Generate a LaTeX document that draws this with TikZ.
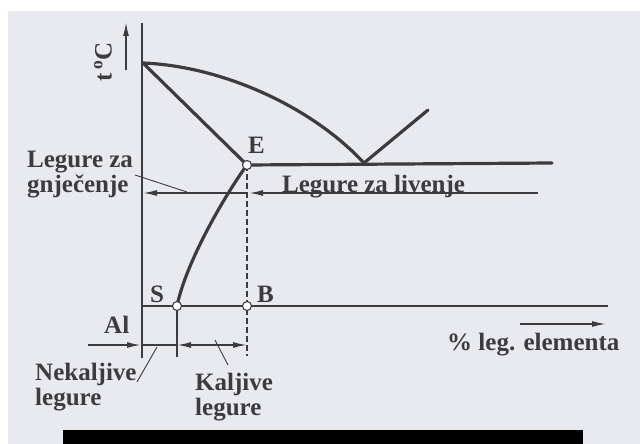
\documentclass[tikz,border=0pt]{standalone}
\usepackage{fontspec}
\setmainfont{Liberation Serif}
\usetikzlibrary{arrows.meta}
\definecolor{alink}{RGB}{60, 60, 62}
\definecolor{alpaper}{RGB}{233, 233, 240}
\tikzset{
  lbl/.style={alink, inner sep=0pt, align=left, font=\bfseries\fontsize{25}{25}\selectfont},
  phase/.style={alink, line width=3.2pt, line cap=round},
  axisln/.style={alink, line width=1.6pt},
  leader/.style={alink, line width=0.9pt},
  arr/.style={axisln, -{Latex[length=14pt, width=6pt]}},
  ringpt/.style={circle, draw=alink, fill=white, line width=1.1pt, minimum size=9pt, inner sep=0pt}
}
\begin{document}
\begin{tikzpicture}[x=1pt, y=-1pt]
  \useasboundingbox (0,0) rectangle (640,444);
  \fill[alpaper] (8,11) rectangle (640,444);
  \fill[black] (63,430) rectangle (583,444);

  \coordinate (top) at (142,23);
  \coordinate (bot) at (142,358);
  \coordinate (A) at (143,63);
  \coordinate (Eu) at (364,163);
  \coordinate (Er) at (428,110);
  \coordinate (Ee) at (552,163);
  \coordinate (E) at (247,165);
  \coordinate (S) at (177,306);
  \coordinate (B) at (247,306);
  \coordinate (base0) at (142,306);
  \coordinate (base1) at (608,306);
  \coordinate (Ed) at (247,356);
  \coordinate (Sd) at (177,357);

  \draw[axisln] (top) -- (bot);
  \draw[axisln] (base0) -- (base1);
  \draw[phase] (A) .. controls (220,66) and (310,105) .. (Eu) -- (Er);
  \draw[phase] (A) -- (E) -- (Ee);
  \draw[phase] (E) .. controls (225,195) and (186,262) .. (S);
  \draw[axisln, dash pattern=on 6pt off 3pt] (E) -- (Ed);
  \draw[axisln] (S) -- (Sd);

  \coordinate (tc0) at (126,70);
  \coordinate (tc1) at (126,22);
  \coordinate (gn0) at (247,193);
  \coordinate (gn1) at (143,193);
  \coordinate (lv0) at (538,193);
  \coordinate (lv1) at (249,193);
  \coordinate (xa0) at (520,324);
  \coordinate (xa1) at (606,324);
  \coordinate (nk0) at (88,345);
  \coordinate (nk1) at (141,345);
  \coordinate (kl0) at (177,345);
  \coordinate (kl1) at (247,345);
  \draw[arr] (tc0) -- (tc1);
  \draw[arr] (gn0) -- (gn1);
  \draw[arr] (lv0) -- (lv1);
  \draw[arr] (xa0) -- (xa1);
  \draw[arr] (nk0) -- (nk1);
  \draw[axisln] (nk1) -- (kl0);
  \draw[axisln, {Latex[length=14pt, width=6pt]}-{Latex[length=14pt, width=6pt]}] (kl0) -- (kl1);

  \node[ringpt] (Ept) at (E) {};
  \node[ringpt] (Spt) at (S) {};
  \node[ringpt] (Bpt) at (B) {};

  \node[lbl, rotate=90] (tlbl) at (103,62) {t\,\textsuperscript{o}C};
  \node[lbl, anchor=base west] (gnj) at (27,192) {Legure za\\gnječenje};
  \node[lbl, anchor=base west] (liv) at (282,192) {Legure za livenje};
  \node[lbl, anchor=base west] (Elbl) at (248,153) {E};
  \node[lbl, anchor=base west] (Slbl) at (150,302) {S};
  \node[lbl, anchor=base west] (Blbl) at (257,302) {B};
  \node[lbl, anchor=base west] (Al) at (104,333) {Al};
  \node[lbl, anchor=base west] (nek) at (35,405) {Nekaljive\\legure};
  \node[lbl, anchor=base west] (kal) at (195,415) {Kaljive\\legure};
  \node[lbl, anchor=base west] (pct) at (447,350) {\% leg. elementa};

  \coordinate (gnA) at (135,175);
  \coordinate (gnB) at (187,192);
  \coordinate (nkA) at (157,347);
  \coordinate (nkB) at (137,382);
  \coordinate (klA) at (215,340);
  \coordinate (klB) at (228,365);
  \draw[leader] (gnA) -- (gnB);
  \draw[leader] (nkA) -- (nkB);
  \draw[leader] (klA) -- (klB);
\end{tikzpicture}
\end{document}
